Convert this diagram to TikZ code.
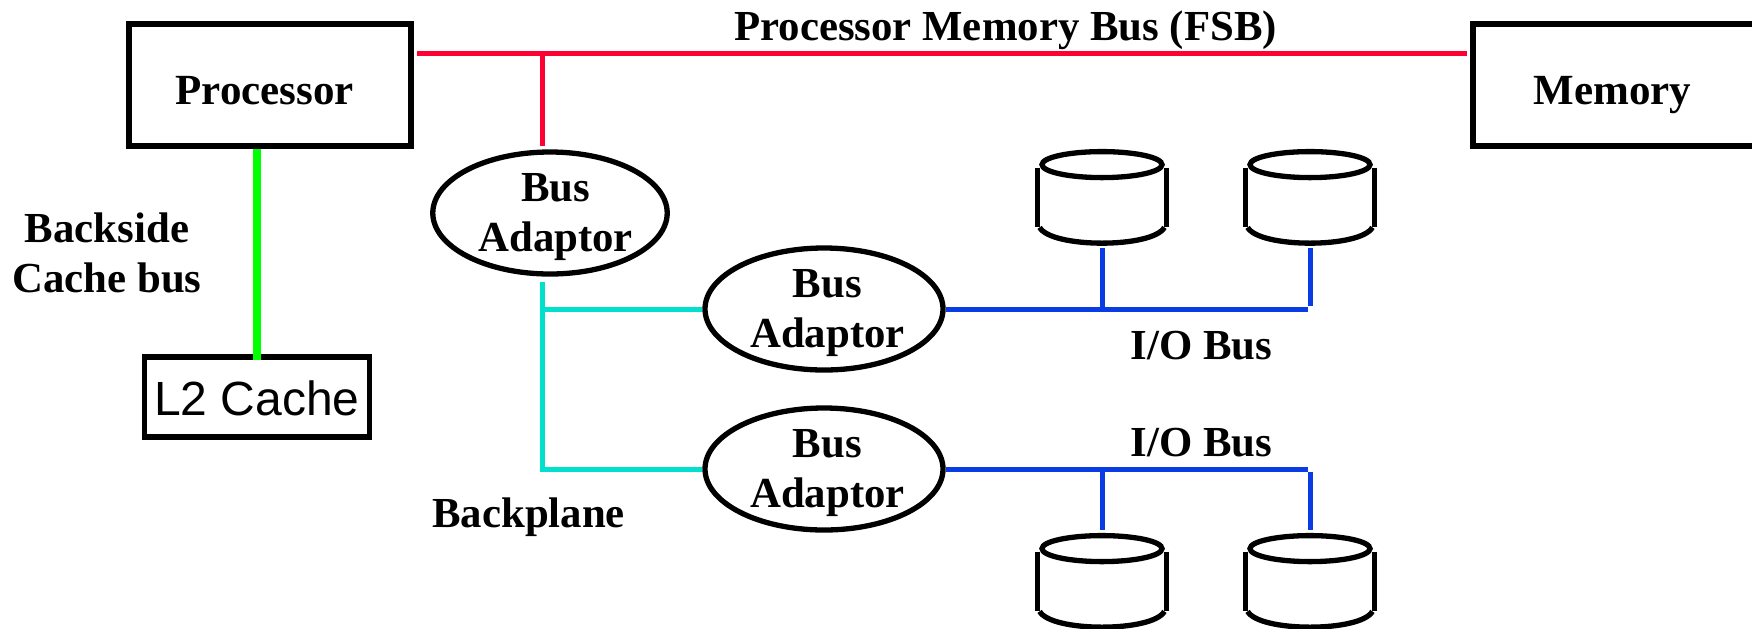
\documentclass[tikz,border=0pt]{standalone}
\usepackage{fontspec}
\setmainfont{Liberation Serif}
\newfontfamily\sansfont{Liberation Sans}
\usetikzlibrary{calc,positioning,shapes.geometric}
\definecolor{fsbred}{HTML}{FF0033}
\definecolor{planecyan}{HTML}{00E0CC}
\definecolor{iobusblue}{HTML}{0A3CE6}
\definecolor{cachegreen}{HTML}{00FF00}
\newcommand{\busadaptor}[1][5.6pt]{\hspace*{#1}Bus\\\hspace*{#1}Adaptor}
\tikzset{
    unit/.style={
        rectangle,
        draw=black,
        line width=2.65pt,
        font=\fontsize{21.5}{25}\selectfont\bfseries,
        align=center,
        inner sep=0pt,
        text height=19.5pt,
        text depth=0.5pt,
    },
    adaptor/.style={
        ellipse,
        draw=black,
        line width=2.65pt,
        font=\fontsize{21.4}{25}\selectfont\bfseries,
        align=center,
        inner sep=0pt,
        text depth=0.9pt,
        minimum width=117pt,
        minimum height=61pt,
    },
    disk/.style={
        rectangle,
        inner sep=0pt,
        minimum width=64pt,
        minimum height=46pt,
    },
    disk line/.style={
        line width=2.65pt,
    },
    label/.style={
        font=\fontsize{21.4}{25}\selectfont\bfseries,
        align=center,
        inner sep=0pt,
    },
    fsb/.style={draw=fsbred,line width=2.5pt},
    backplane/.style={draw=planecyan,line width=2.5pt},
    iobus/.style={draw=iobusblue,line width=2.5pt},
    backside/.style={draw=cachegreen,line width=4pt},
}
\begin{document}
\begin{tikzpicture}[x=0.5pt,y=-0.5pt]
    \useasboundingbox (0,0) rectangle (1752,628);
    \node[unit,minimum width=141pt,minimum height=61pt](proc) at (270,85) { Processor };
    \node[unit,minimum width=145pt,minimum height=61pt](mem) at (1618,85) { Memory };
    \node[unit,minimum width=112.5pt,minimum height=40pt,text height=19pt,font=\fontsize{24}{26}\selectfont\sansfont](l2) at (257,397) {L2 Cache};
    \node[adaptor](ba1) at (550,213) {\busadaptor};
    \node[adaptor,minimum width=119pt](ba2) at (824,309) {\busadaptor[3.4pt]};
    \node[adaptor,minimum width=119pt](ba3) at (824,469) {\busadaptor[3.4pt]};
    \node[disk](d1) at (1102,197) {};
    \node[disk](d2) at (1310,197) {};
    \node[disk](d3) at (1102,581) {};
    \node[disk](d4) at (1310,581) {};
    \foreach \d in {d1,d2,d3,d4} {
        \draw[disk line] ($(\d.north)+(0,14)$) ellipse (60 and 13);
        \draw[disk line] ($(\d.north west)+(0,17)$) -- ($(\d.south west)+(0,-16)$);
        \draw[disk line] ($(\d.north east)+(0,17)$) -- ($(\d.south east)+(0,-16)$);
        \draw[disk line] ($(\d.south west)+(2,-16)$) .. controls ($(\d.south west)+(14,5)$) and ($(\d.south east)+(-14,5)$) .. ($(\d.south east)+(-2,-16)$);
    }
    \node[label](fsbl) at (1011,30.5) { Processor Memory Bus (FSB) };
    \node[label](bsl) at (107,252.5) { Backside\\Cache bus };
    \node[label](iol1) at (1207,346) { I/O Bus };
    \node[label](iol2) at (1207,443) { I/O Bus };
    \node[label](bpl) at (534,517.5) { Backplane };
    \coordinate (fsbl1) at (417,53);
    \coordinate (fsbt) at (542,53);
    \coordinate (bpt) at (542,309);
    \coordinate (bpb) at (542,469);
    \coordinate (io1) at (1102,309);
    \coordinate (io1e) at (1308,309);
    \coordinate (io2) at (1102,469);
    \coordinate (io2e) at (1308,469);
    \draw[fsb] (fsbl1) -- ([xshift=-1.5pt]mem.west |- fsbl1);
    \draw[fsb] (fsbt) -- ([yshift=1.3pt]fsbt |- proc.south);
    \draw[backplane] ([xshift=-4pt,yshift=-2.5pt]ba1.south) -- (bpb) -- (ba3);
    \draw[backplane] (bpt) -- (ba2);
    \draw[iobus] (ba2.east) -- (io1e);
    \draw[iobus] (io1) -- ([yshift=-2.5pt]d1.south);
    \draw[iobus] ($(d2.south)+(0,5)$) -- ($(io1e)+(2,-3)$);
    \draw[iobus] (ba3.east) -- (io2e);
    \draw[iobus] (io2) -- ([yshift=2.5pt]d3.north);
    \draw[iobus] ($(d4.north)+(0,-5)$) -- ($(io2e)+(2,3)$);
    \draw[backside] (proc.south -| l2.north) -- ([yshift=-2.6pt]l2.north);
\end{tikzpicture}
\end{document}
